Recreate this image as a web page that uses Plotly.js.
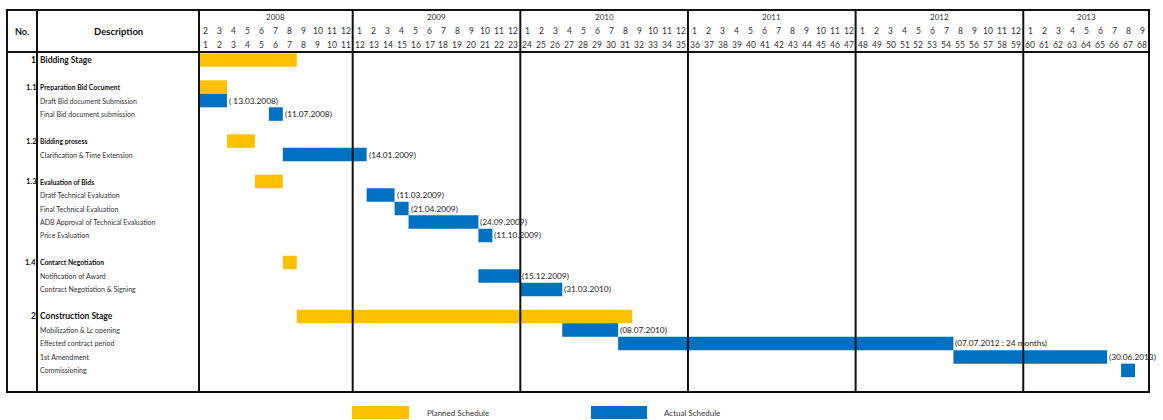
<!DOCTYPE html>
<html><head><meta charset="utf-8">
<script src="https://cdn.plot.ly/plotly-3.0.1.min.js"></script>
<style>html,body{margin:0;padding:0;background:#fff}#chart{width:1163px;height:420px}</style>
</head><body><div id="chart"></div>
<script>
// Calendar shown in the chart (month index 1 = Feb 2008)
const years = [2008, 2009, 2010, 2011, 2012, 2013];
const firstMonthOfYear = [2, 1, 1, 1, 1, 1];
const monthsShownPerYear = [11, 12, 12, 12, 12, 9];

// Rows of the table
const taskRow = [0, 2, 3, 4, 6, 7, 9, 10, 11, 12, 13, 15, 16, 17, 19, 20, 21, 22, 23];
const taskNo = ["1", "1.1", "", "", "1.2", "", "1.3", "", "", "", "", "1.4", "", "", "2", "", "", "", ""];
const taskName = ["Bidding Stage", "Preparation Bid Cocument", "Draft Bid document Submission",
  "Final Bid document submission", "Bidding prosess", "Clarification & Time Extension",
  "Evaluation of Bids", "Dratf Technical Evaluation", "Final Technical Evaluation",
  "ADB Approval of Technical Evaluation", "Price Evaluation", "Contarct Negotiation",
  "Notification of Award", "Contract Negotiation & Signing", "Construction Stage",
  "Mobilization & Lc opening", "Effected contract period", "1st Amendment", "Commissioning"];
const taskLevel = [1, 2, 3, 3, 2, 3, 2, 3, 3, 3, 3, 2, 3, 3, 1, 3, 3, 3, 3];

// Planned schedule (month index, start/end)
const plannedRow = [0, 2, 6, 9, 15, 19];
const plannedStart = [0, 0, 2, 4, 6, 7];
const plannedEnd = [7, 2, 4, 6, 7, 31];

// Actual schedule
const actualRow = [3, 4, 7, 10, 11, 12, 13, 16, 17, 20, 21, 22, 23];
const actualStart = [0, 5, 6, 12, 14, 15, 20, 20, 23, 26, 30, 54, 66];
const actualEnd = [2, 6, 12, 14, 15, 20, 21, 23, 26, 30, 54, 65, 67];
const actualLabel = ["( 13.03.2008)", "(11.07.2008)", "(14.01.2009)", "(11.03.2009)", "(21.04.2009)",
  "(24.09.2009)", "(11.10.2009)", "(15.12.2009)", "(31.03.2010)", "(08.07.2010)",
  "(07.07.2012 : 24 months)", "(30.06.2013)", ""];

const YELLOW = "#FFC000", BLUE = "#0070C0", FONT = "Lato, 'Open Sans', sans-serif";

const traces = [
  {type: "bar", orientation: "h", name: "Planned Schedule", y: plannedRow,
   base: plannedStart, x: plannedEnd.map((e, i) => e - plannedStart[i]), width: 1,
   marker: {color: YELLOW, line: {width: 0}}, hoverinfo: "skip"},
  {type: "bar", orientation: "h", name: "Actual Schedule", y: actualRow,
   base: actualStart, x: actualEnd.map((e, i) => e - actualStart[i]), width: 1,
   marker: {color: BLUE, line: {width: 0}}, hoverinfo: "skip"}
];

// geometry helpers (paper coords)
const pxX = p => (p - 199) / 950;
const pxY = p => (392 - p) / 340;

const shapes = [];
const ann = [];
const line = (x0, y0, x1, y1, xref, w) => shapes.push({type: "line", xref: xref || "paper", yref: "paper",
  x0, y0, x1, y1, line: {color: "#111", width: w || 2}});
const A = o => ann.push(Object.assign({showarrow: false, xanchor: "center", yanchor: "middle"}, o));

// outer box & column dividers
shapes.push({type: "rect", xref: "paper", yref: "paper", x0: pxX(7), x1: 1, y0: 0, y1: pxY(10),
  line: {color: "#111", width: 2}, fillcolor: "rgba(0,0,0,0)"});
line(pxX(7), 1, 1, 1);
line(pxX(37), 0, pxX(37), pxY(10));
line(0, 0, 0, pxY(10));

// year dividers, labels and month labels
let cum = 0;
years.forEach((yr, i) => {
  const n = monthsShownPerYear[i];
  A({xref: "x", yref: "paper", x: cum + n / 2, y: pxY(17), text: String(yr),
    font: {family: FONT, size: 8, color: "#333"}});
  for (let m = 0; m < n; m++) {
    const k = cum + m + 1;
    A({xref: "x", yref: "paper", x: k - 0.5, y: pxY(31), text: String(firstMonthOfYear[i] + m),
      font: {family: FONT, size: 8.5, color: "#333"}});
    A({xref: "x", yref: "paper", x: k - 0.5, y: pxY(45), text: String(k),
      font: {family: FONT, size: 8.5, color: "#333"}});
  }
  cum += n;
  if (i < years.length - 1) line(cum, 0, cum, pxY(10), "x");
});

// header texts
A({xref: "paper", yref: "paper", x: pxX(22), y: pxY(31), text: "<b>No.</b>",
  font: {family: FONT, size: 9, color: "#111"}});
A({xref: "paper", yref: "paper", x: pxX(118), y: pxY(31), text: "<b>Description</b>",
  font: {family: FONT, size: 9.5, color: "#111"}});

// row labels
taskRow.forEach((r, i) => {
  const lvl = taskLevel[i];
  const sz = lvl === 1 ? 8.5 : (lvl === 2 ? 6.8 : 7);
  const txt = lvl < 3 ? "<b>" + taskName[i] + "</b>" : taskName[i];
  A({xref: "paper", yref: "y", x: pxX(38), y: r, xanchor: "left", text: txt,
    font: {family: FONT, size: sz, color: lvl < 3 ? "#111" : "#333"}});
  if (taskNo[i]) A({xref: "paper", yref: "y", x: pxX(37.5), y: r, xanchor: "right",
    text: "<b>" + taskNo[i] + "</b>",
    font: {family: FONT, size: lvl === 1 ? 8.5 : 7.5, color: "#111"}});
});

// actual labels
actualRow.forEach((r, i) => {
  if (!actualLabel[i]) return;
  A({xref: "x", yref: "y", x: actualEnd[i], y: r, xanchor: "left", text: actualLabel[i],
    font: {family: FONT, size: 8.3, color: "#222"}});
});

// legend
const legendItems = [["Planned Schedule", YELLOW, 352, 409, 425], ["Actual Schedule", BLUE, 591, 647, 662]];
legendItems.forEach(([t, c, a, b, tx]) => {
  shapes.push({type: "rect", xref: "paper", yref: "paper", x0: pxX(a), x1: pxX(b), y0: pxY(419), y1: pxY(406),
    fillcolor: c, line: {width: 0}});
  A({xref: "paper", yref: "paper", x: pxX(tx), y: pxY(412.5), xanchor: "left", text: t,
    font: {family: FONT, size: 8, color: "#333"}});
});

const layout = {
  width: 1163, height: 420, margin: {l: 199, r: 14, t: 52, b: 28, pad: 0},
  paper_bgcolor: "#fff", plot_bgcolor: "#fff", showlegend: false, barmode: "overlay",
  xaxis: {range: [0, 68], visible: false, fixedrange: true},
  yaxis: {range: [24.6, -0.6], visible: false, fixedrange: true},
  shapes, annotations: ann, font: {family: FONT}
};
Plotly.newPlot("chart", traces, layout, {displayModeBar: false, staticPlot: true});
</script></body></html>
